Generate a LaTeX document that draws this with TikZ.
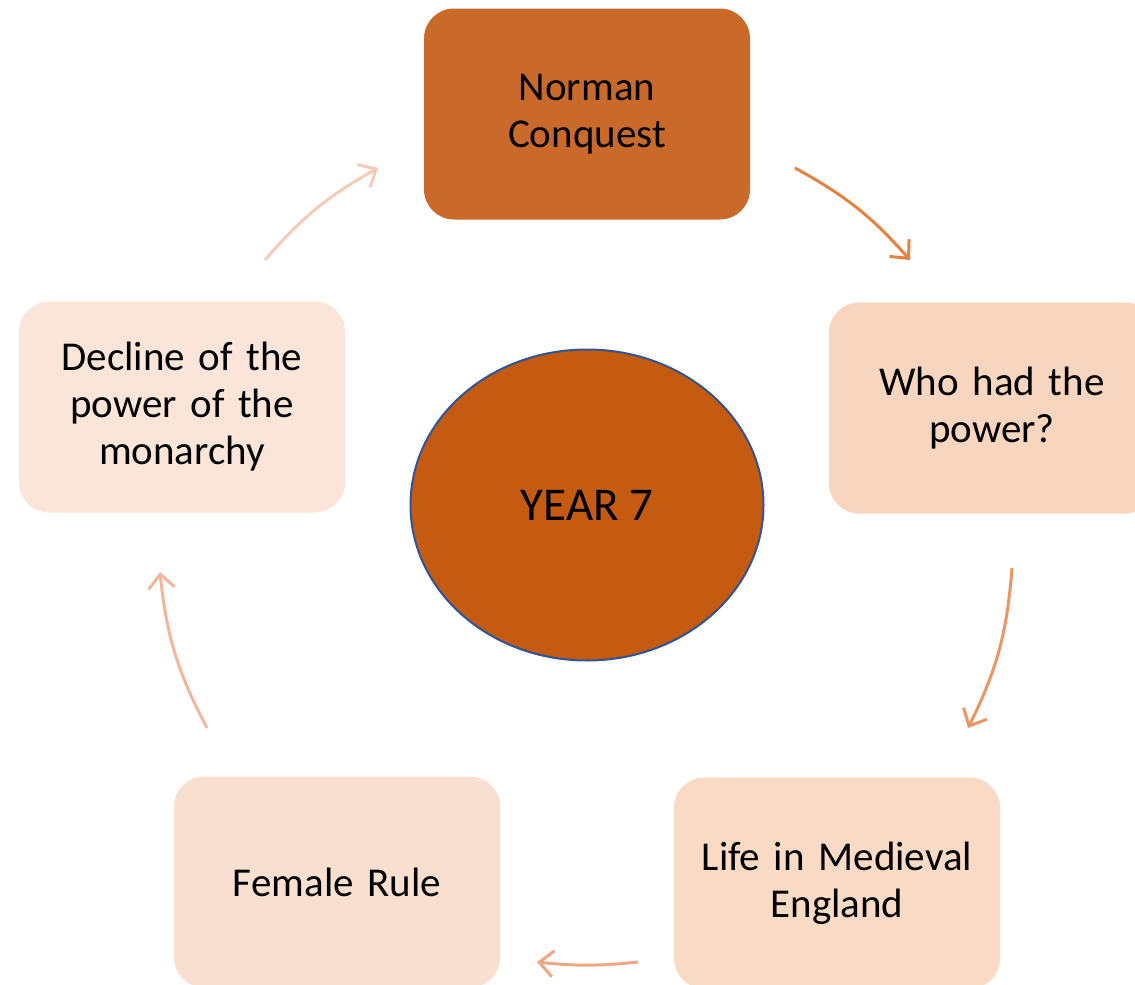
\documentclass[tikz,border=0pt]{standalone}
\usepackage{fontspec}
\setmainfont{Carlito}
\usetikzlibrary{arrows.meta,shapes.geometric}
\definecolor{cNorman}{HTML}{C96A2B}
\definecolor{cYear}{HTML}{C55A11}
\definecolor{cYearBorder}{HTML}{2F5597}
\definecolor{cWho}{HTML}{F8D5BE}
\definecolor{cLife}{HTML}{F8DAC5}
\definecolor{cFemale}{HTML}{F9DFCF}
\definecolor{cDecline}{HTML}{FBE5D8}
\definecolor{cArA}{HTML}{E6823F}
\definecolor{cArB}{HTML}{EA9563}
\definecolor{cArC}{HTML}{F0A585}
\definecolor{cArD}{HTML}{F3B59B}
\definecolor{cArE}{HTML}{F7CAB6}
\tikzset{
  topicbox/.style={rectangle, rounded corners=30pt, minimum width=326pt, minimum height=211pt,
    inner sep=0pt, align=center, text width=310pt,
    font=\fontsize{41}{47}\selectfont, text=black},
  cyclearrow/.style={line width=3pt, -{Straight Barb[length=14pt,width=26pt]}},
}
\begin{document}
\begin{tikzpicture}[x=1pt,y=-1pt]
\useasboundingbox (0,0) rectangle (1135,985);
\clip (0,0) rectangle (1135,985);
\node[topicbox, fill=cNorman] (norman) at (587,114) {Norman\\Conquest};
\node[topicbox, fill=cWho] (who) at (992,408) {Who had the\\power?};
\node[topicbox, fill=cLife] (life) at (837,883) {Life in Medieval\\England};
\node[topicbox, fill=cFemale] (female) at (337,882) {Female Rule};
\node[topicbox, fill=cDecline] (decline) at (182,407) {Decline of the\\power of the\\monarchy};
\node[ellipse, fill=cYear, draw=cYearBorder, line width=2pt, minimum width=353pt, minimum height=311pt,
  inner sep=0pt, font=\fontsize{47}{54}\selectfont] (year) at (587,505) {YEAR 7};
\coordinate (a1s) at (795,168);
\coordinate (a1e) at (910,260);
\coordinate (a2s) at (1012,568);
\coordinate (a2e) at (968,728);
\coordinate (a3s) at (638,962);
\coordinate (a3e) at (537,962);
\coordinate (a4s) at (207,728);
\coordinate (a4e) at (160,572);
\coordinate (a5s) at (265,260);
\coordinate (a5e) at (378,168);
\draw[cyclearrow, cArA] (a1s) to[bend left=10] (a1e);
\draw[cyclearrow, cArB] (a2s) to[bend left=11] (a2e);
\draw[cyclearrow, cArC] (a3s) to[bend left=6] (a3e);
\draw[cyclearrow, cArD] (a4s) to[bend left=11] (a4e);
\draw[cyclearrow, cArE] (a5s) to[bend left=10] (a5e);
\end{tikzpicture}
\end{document}
